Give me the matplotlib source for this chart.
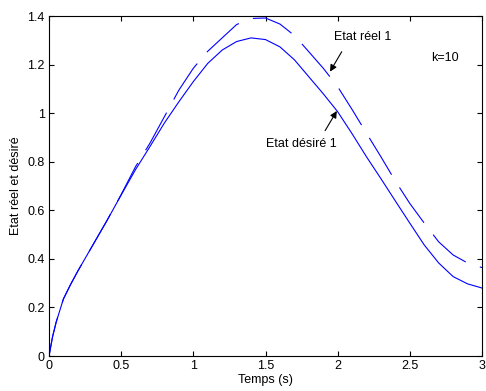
import matplotlib
matplotlib.use('Agg')
import matplotlib.pyplot as plt
import numpy as np

t = [0, 0.025, 0.05, 0.1, 0.15, 0.2, 0.3, 0.4, 0.5, 0.6, 0.7, 0.8, 0.9, 1.0, 1.1, 1.2, 1.3, 1.4, 1.5,
     1.6, 1.7, 1.8, 1.9, 2.0, 2.1, 2.2, 2.3, 2.4, 2.5, 2.6, 2.7, 2.8, 2.9, 3.0]

# etat desire (trait plein)
desire = [0, 0.08, 0.14, 0.235, 0.295, 0.35, 0.453, 0.556, 0.663, 0.768, 0.863, 0.96, 1.047, 1.13, 1.205,
          1.26, 1.295, 1.31, 1.303, 1.273, 1.22, 1.15, 1.08, 1.006, 0.915, 0.82, 0.73, 0.638, 0.547,
          0.457, 0.383, 0.327, 0.297, 0.28]

# etat reel (tirets)
reel = [0, 0.08, 0.14, 0.235, 0.295, 0.35, 0.453, 0.556, 0.665, 0.78, 0.877, 0.986, 1.095, 1.185, 1.255,
        1.31, 1.365, 1.39, 1.392, 1.367, 1.32, 1.253, 1.185, 1.109, 1.015, 0.917, 0.82, 0.72, 0.628,
        0.547, 0.47, 0.416, 0.383, 0.364]

plt.rcParams['font.family'] = ['Liberation Sans', 'DejaVu Sans']
plt.rcParams['font.size'] = 9
plt.rcParams['lines.scale_dashes'] = False

fig = plt.figure(figsize=(4.86, 3.91), dpi=100)
ax = fig.add_axes([0.1008, 0.0895, 0.891, 0.8695])
ax.set_xlim(0, 3)
ax.set_ylim(0, 1.4)

# dash pattern in pixels (43 on, 15 off), phase chosen so a gap starts near t=1.68
on_px, off_px = 43.0, 15.0
per = on_px + off_px
xy = ax.transData.transform(np.column_stack([t, reel]))
seg = np.hypot(np.diff(xy[:, 0]), np.diff(xy[:, 1]))
cum = np.concatenate([[0], np.cumsum(seg)])
L = np.interp(1.68, t, cum)
off = (on_px - L) % per
k = 72.0 / fig.dpi

ax.plot(t, desire, color='#0000ff', lw=0.8)
ax.plot(t, reel, color='#0000ff', lw=0.8, linestyle=(off * k, (on_px * k, off_px * k)))

ax.set_xticks([0, 0.5, 1, 1.5, 2, 2.5, 3])
ax.set_xticklabels(['0', '0.5', '1', '1.5', '2', '2.5', '3'])
ax.set_yticks([0, 0.2, 0.4, 0.6, 0.8, 1, 1.2, 1.4])
ax.set_yticklabels(['0', '0.2', '0.4', '0.6', '0.8', '1', '1.2', '1.4'])
ax.tick_params(direction='in', top=True, right=True, length=3.5, width=0.8, pad=3)
for s in ax.spines.values():
    s.set_linewidth(0.8)

ax.set_xlabel('Temps (s)', labelpad=1)
ax.set_ylabel('Etat réel et désiré', labelpad=4)

arr = dict(arrowstyle='-|>', color='k', lw=0.8, mutation_scale=10, shrinkA=0, shrinkB=0)
ax.text(1.975, 1.313, 'Etat réel 1', va='center', ha='left')
ax.annotate('', xy=(1.947, 1.171), xytext=(2.028, 1.253), arrowprops=arr)
ax.text(1.504, 0.873, 'Etat désiré 1', va='center', ha='left')
ax.annotate('', xy=(1.994, 1.009), xytext=(1.913, 0.928), arrowprops=arr)
ax.text(2.645, 1.226, 'k=10', va='center', ha='left')

fig.savefig('out.png', dpi=100)
